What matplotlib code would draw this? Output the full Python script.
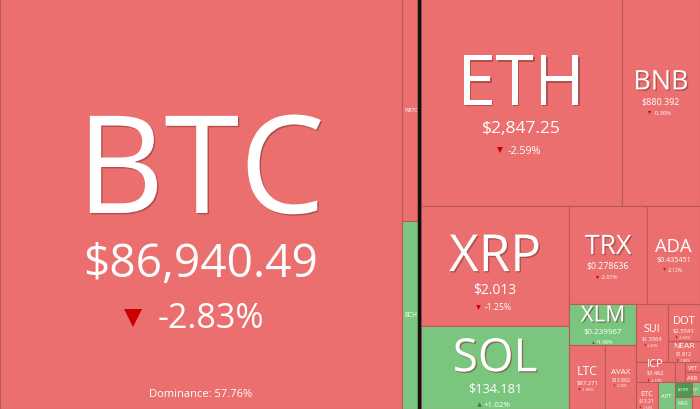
import matplotlib
matplotlib.use("Agg")
import matplotlib.pyplot as plt
from matplotlib.patches import Rectangle
import matplotlib.patheffects as pe

tickers = ["BTC","WBTC","BCH","ETH","BNB","XRP","SOL","TRX","ADA","XLM","LTC","AVAX",
           "SUI","DOT","NEAR","ICP","ETC","APT","HBAR","VET","ARB","ASTER","KAS","OP","TON"]
caps = [1730,44.5,37.7,437,170,187,130,80,55,28.5,24.3,20.9,
        19,12.5,7.1,8,6,4.8,2.1,1.6,1.6,2.7,2.2,1.2,1.1]
prices = ["$86,940.49","$86,912.3","$561.42","$2,847.25","$880.392","$2.013","$134.181","$0.278636",
          "$0.435451","$0.239967","$87.271","$13.862","$1.5564","$2.5541","$1.812","$3.462","$13.21",
          "$1.894","$0.1421","$0.0132","$0.2091","$1.012","$0.0521","$0.331","$1.55"]
changes = [-2.83,-2.71,1.35,-2.59,-0.3,-1.25,1.02,-2.07,-2.12,1.48,-1.9,-2.3,
           -2.4,-2.6,-1.8,-2.2,-1.5,0.8,-1.1,-2.0,-2.5,3.1,0.9,0.5,-0.7]
dominance = "Dominance: 57.76%"

val = dict(zip(tickers, caps))
RED, GREEN, DGREEN, EDGE = "#EB6F6F", "#7BC67E", "#4E9A52", "#B85A5A"

tree = ('h', ["BTC", ('v', ["WBTC", "BCH"]),
    ('v', [('h', ["ETH", "BNB"]),
        ('h', [('v', ["XRP", "SOL"]),
            ('v', [('h', ["TRX", "ADA"]),
                ('h', [('v', ["XLM", ('h', ["LTC", "AVAX"])]),
                    ('v', [('h', ["SUI", ('v', ["DOT", "NEAR"])]),
                        ('h', [('v', ["ICP", ('h', ["ETC", "APT"])]),
                            ('v', [('h', ["HBAR", ('v', ["VET", "ARB"])]),
                                   ('h', [('v', ["ASTER", "KAS"]), ('v', ["OP", "TON"])])])])])])])])])])

def total(n):
    return val[n] if isinstance(n, str) else sum(total(c) for c in n[1])

rects = {}
def layout(n, x, y, w, h):
    if isinstance(n, str):
        rects[n] = (x, y, w, h); return
    d, ch = n
    t = total(n)
    for c in ch:
        f = total(c) / t
        if d == 'h':
            layout(c, x, y, w*f, h); x += w*f
        else:
            layout(c, x, y, w, h*f); y += h*f

W, H = 700, 410
layout(tree, 0, 0, W, H)

plt.rcParams['font.family'] = ['Open Sans', 'DejaVu Sans']
fig = plt.figure(figsize=(7, 4.1), dpi=100)
ax = fig.add_axes([0, 0, 1, 1])
ax.set_xlim(0, W); ax.set_ylim(H, 0); ax.axis('off')
px = 72/100
shadow = [pe.withSimplePatchShadow(offset=(1, -1), shadow_rgbFace='#7a3030', alpha=0.5)]

for t, p, c in zip(tickers, prices, changes):
    x, y, w, h = rects[t]
    col = DGREEN if t == "ASTER" else (GREEN if c >= 0 else RED)
    ax.add_patch(Rectangle((x, y), w, h, facecolor=col, edgecolor=EDGE, lw=0.8))
    cx = x + w/2
    if t == "BTC":
        fs = 136
        ty, py_, cy = 165, 265, 319
        pfs, cfs = 46, 34
    else:
        fs = min(0.62*w/(0.6*len(t)), 0.55*h)
        if fs < 3: continue
        if fs < 7:
            ax.text(cx, y + h/2, t, color='white', fontsize=max(fs*px, 2.5),
                    ha='center', va='center')
            continue
        pfs, cfs = 0.2*fs + 3.5, 0.12*fs + 2.5
        ty = y + 0.39*h
        py_ = ty + 0.5*fs + 0.75*pfs + 1
        cy = py_ + 0.7*pfs + 0.9*cfs
        if cy > y + h - 0.6*cfs:
            d = cy - (y + h - 0.6*cfs)
            ty -= d; py_ -= d; cy -= d
    ax.text(cx, ty + 0.36*fs, t, color='white', fontsize=fs*px, ha='center', va='baseline',
            path_effects=shadow if fs > 20 else None)
    ax.text(cx, py_, p, color='white', fontsize=pfs*px, ha='center', va='center')
    ctxt = f"+{c:.2f}%" if c >= 0 else f"{c:.2f}%"
    ax.text(cx + 0.3*cfs, cy, ctxt, color='white', fontsize=cfs*px, ha='center', va='center')
    tx = cx + 0.3*cfs - len(ctxt)*0.29*cfs - 0.55*cfs
    ax.plot(tx, cy, marker='v' if c < 0 else '^', color='#CC0000' if c < 0 else '#1E8E1E',
            markersize=max(cfs*px*0.55, 1), markeredgewidth=0)

bx, by, bw, bh = rects["BTC"]
ax.text(bx + bw/2, by + bh - 15, dominance, color='white', fontsize=8, ha='center', va='center')
ex = rects["ETH"][0]
ax.plot([ex - 1.5, ex - 1.5], [0, H], color='#111111', lw=2.5)

fig.savefig("out.png", dpi=100)
